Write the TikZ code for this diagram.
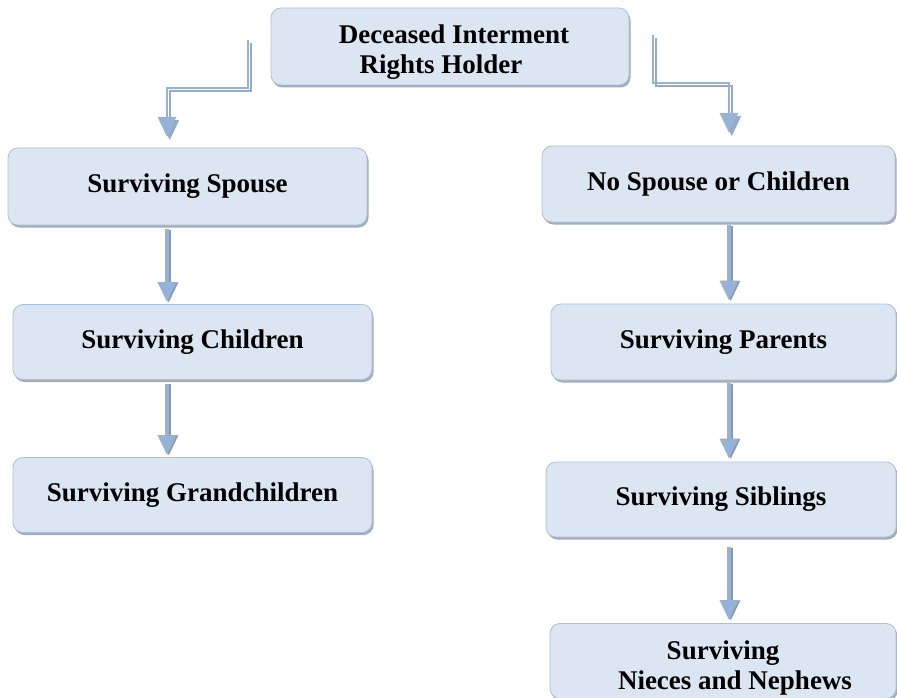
\documentclass[tikz,border=0pt]{standalone}
\usepackage{fontspec}
\setmainfont{Liberation Serif}
\usetikzlibrary{arrows.meta,shadows,calc}
\definecolor{boxfill}{HTML}{DCE6F2}
\definecolor{boxline}{HTML}{A9C0DC}
\definecolor{arrowc}{HTML}{95B3D7}
\definecolor{shadowc}{HTML}{8D97A6}
\definecolor{elbowsh}{HTML}{9AAAC2}
% two centred lines, pushed down by extra room above the first line
\newcommand{\twolines}[3]{\begin{tabular}{@{}c@{}}\rule{0pt}{#1}#2\\#3\end{tabular}}
\begin{document}
\begin{tikzpicture}[x=1pt,y=-1pt,
  box/.style={draw=boxline, line width=0.8pt, fill=boxfill, rounded corners=10pt,
    inner sep=0pt, align=center, text=black,
    font=\fontsize{27}{30}\selectfont\bfseries,
    drop shadow={shadow xshift=1.5pt, shadow yshift=-2.5pt, fill=shadowc, opacity=0.8}},
  conn/.style={draw=arrowc, line width=3.5pt, -{Triangle[width=18pt,length=20pt]}},
  connsh/.style={draw=shadowc, line width=3.5pt, -{Triangle[width=18pt,length=20pt]},
    transform canvas={shift={(1.8pt,-0.3pt)}}},
  elbow/.style={draw=arrowc, line width=2.8pt, -{Triangle[width=18pt,length=20pt]}},
  elbowshd/.style={draw=elbowsh, line width=2.2pt, -{Triangle[width=18pt,length=20pt]},
    transform canvas={shift={(2.8pt,-3.2pt)}}},
]
\useasboundingbox (0,0) rectangle (897,698);

% nodes
\node[box, minimum width=358pt, minimum height=77pt] (top) at (450,46.5)
  {\twolines{33pt}{\hspace*{8pt}Deceased Interment}{Rights Holder\hspace*{18pt}}};
\node[box, minimum width=359pt, minimum height=77pt] (spouse) at (187.5,186.5) {Surviving Spouse};
\node[box, minimum width=359pt, minimum height=75pt] (children) at (192.5,342) {Surviving Children};
\node[box, minimum width=359pt, minimum height=75pt] (grand) at (192.5,495) {Surviving Grandchildren};
\node[box, minimum width=353pt, minimum height=76pt] (nospouse) at (718.5,184) {No Spouse or Children};
\node[box, minimum width=345pt, minimum height=76pt] (parents) at (723.5,342) {Surviving Parents};
\node[box, minimum width=350pt, minimum height=75pt] (siblings) at (721,499.5) {Surviving Siblings};
\node[box, minimum width=346pt, minimum height=72pt] (nieces) at (723,661)
  {\twolines{36pt}{Surviving}{\hspace*{24pt}Nieces and Nephews}};

% free ends of the elbow connectors
\coordinate (L0) at (248,40);
\coordinate (L1) at (167,137);
\coordinate (R0) at (653,35);
\coordinate (R1) at (729,133);

% elbow connectors
\draw[elbowshd] (L0) -- (L0 |- 0,88) -- (L1 |- 0,88) -- (L1);
\draw[elbow] (L0) -- (L0 |- 0,88) -- (L1 |- 0,88) -- (L1);
\draw[elbowshd] (R0) -- (R0 |- 0,83) -- (R1 |- 0,83) -- (R1);
\draw[elbow] (R0) -- (R0 |- 0,83) -- (R1 |- 0,83) -- (R1);

% straight connectors, left column
\foreach \a/\b/\g in {spouse/children/4, children/grand/4}{
  \draw[connsh] ($(\a.south -| L1)+(0,\g)$) -- ($(\b.north -| L1)+(0,-2)$);
  \draw[conn]   ($(\a.south -| L1)+(0,\g)$) -- ($(\b.north -| L1)+(0,-2)$);
}
% straight connectors, right column
\foreach \a/\b/\g in {nospouse/parents/3, parents/siblings/3, siblings/nieces/10}{
  \draw[connsh] ($(\a.south -| R1)+(0,\g)$) -- ($(\b.north -| R1)+(0,-3)$);
  \draw[conn]   ($(\a.south -| R1)+(0,\g)$) -- ($(\b.north -| R1)+(0,-3)$);
}
\end{tikzpicture}
\end{document}
